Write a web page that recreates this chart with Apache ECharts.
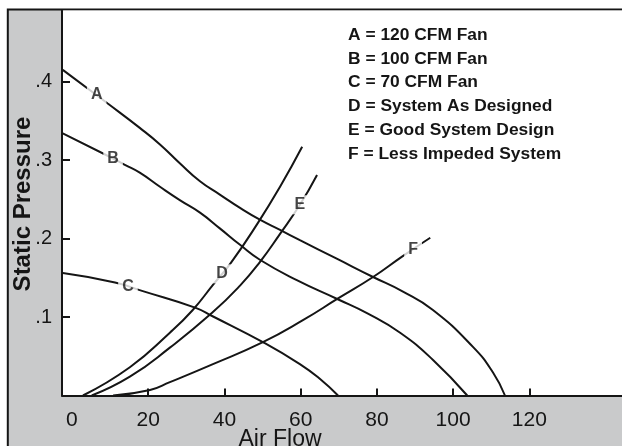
<!DOCTYPE html>
<html><head><meta charset="utf-8">
<script src="https://cdn.jsdelivr.net/npm/echarts@6/dist/echarts.min.js"></script>
<style>html,body{margin:0;padding:0;background:#fff}#c{width:622px;height:446px}</style>
</head><body><div id="c"></div>
<script>
const xTickLabels = [0, 20, 40, 60, 80, 100, 120];
const xTicks = [20, 40, 60, 80, 100, 120];
const yTickLabels = [0.1, 0.2, 0.3, 0.4];
const curveA = [[-2.4,0.415],[9.4,0.372],[17.8,0.341],[23.1,0.320],[28.3,0.296],[33.6,0.273],[38.8,0.256],[44.1,0.239],[49.3,0.224],[54.6,0.211],[59.8,0.198],[69.6,0.174],[79.0,0.151],[86.6,0.133],[94.7,0.109],[105.2,0.062],[110.5,0.029],[113.6,0]];
const curveB = [[-2.4,0.334],[10.8,0.302],[13.9,0.294],[17.8,0.284],[23.1,0.266],[28.3,0.249],[33.6,0.233],[38.8,0.213],[44.1,0.192],[49.3,0.173],[59.0,0.147],[69.6,0.123],[77.4,0.105],[86.1,0.080],[94.8,0.045],[103.7,0]];
const curveC = [[-2.4,0.156],[11.3,0.144],[18.6,0.133],[32.3,0.112],[36.9,0.101],[50.1,0.068],[59.8,0.040],[65.1,0.021],[69.8,0]];
const curveD = [[2.9,0],[15.2,0.036],[25.7,0.080],[31.7,0.109],[37.0,0.141],[41.7,0.169],[48.8,0.220],[54.6,0.266],[60.4,0.317]];
const curveE = [[5.2,0],[15.2,0.024],[25.7,0.061],[36.7,0.105],[44.1,0.140],[49.3,0.170],[54.6,0.206],[59.8,0.243],[64.3,0.281]];
const curveF = [[10.8,0],[20.5,0.007],[25.7,0.017],[37.0,0.040],[50.1,0.068],[60.6,0.096],[69.6,0.123],[79.0,0.151],[86.6,0.177],[94.0,0.201]];
const curveLabels = [[6.5,0.383,'A'],[10.8,0.302,'B'],[14.7,0.139,'C'],[39.4,0.155,'D'],[59.8,0.243,'E'],[89.5,0.186,'F']];
const legendLines = ['A = 120 CFM Fan','B = 100 CFM Fan','C = 70 CFM Fan','D = System As Designed','E = Good System Design','F = Less Impeded System'];
const xName = 'Air Flow';
const yName = 'Static Pressure';

const FONT = '"Liberation Sans", Arial, Helvetica, sans-serif';
const INK = '#151515';
const chart = echarts.init(document.getElementById('c'));
const curves = [curveA, curveB, curveC, curveD, curveE, curveF];
const series = curves.map(d => ({
  type: 'line', data: d, smooth: 0.5, symbol: 'none',
  lineStyle: { color: INK, width: 2 }, z: 3, silent: true
}));
series.push({
  type: 'scatter', data: curveLabels, symbolSize: 0, z: 10, silent: true,
  label: {
    show: true, position: 'inside', formatter: p => p.value[2],
    color: INK, fontFamily: FONT, fontWeight: 'bold', fontSize: 16,
    backgroundColor: '#fff', padding: [2, 4, 1, 4]
  }
});
const graphics = [
  { type: 'rect', z: -100, shape: { x: 7.8, y: 9.5, width: 700, height: 500 },
    style: { fill: '#c9cacb', stroke: INK, lineWidth: 2 } },
  { type: 'text', z: 50, style: { text: xName, x: 280, y: 428, fill: INK,
    font: '23px ' + FONT, textAlign: 'center', textVerticalAlign: 'top', align: 'center', verticalAlign: 'top' } },
  { type: 'text', z: 50, x: 23, y: 204, rotation: Math.PI / 2,
    style: { text: yName, x: 0, y: 0, fill: INK,
    font: 'bold 24px ' + FONT, textAlign: 'center', textVerticalAlign: 'middle', align: 'center', verticalAlign: 'middle' } }
];
legendLines.forEach((t, i) => graphics.push({
  type: 'text', z: 50, style: { text: t, x: 348, y: 35 + i * 23.8, fill: INK,
    font: 'bold 17.4px ' + FONT, textAlign: 'left', textVerticalAlign: 'middle', align: 'left', verticalAlign: 'middle' }
}));
chart.setOption({
  animation: false,
  backgroundColor: '#fff',
  graphic: { elements: graphics },
  grid: { left: 62, right: 0, top: 10.5, bottom: 50.5, show: true, backgroundColor: '#fff', borderWidth: 0,
    containLabel: false, outerBoundsMode: 'none' },
  xAxis: {
    type: 'value', min: -2.6, max: 144.3,
    axisLine: { show: true, onZero: false, lineStyle: { color: INK, width: 2 } },
    axisTick: { show: true, inside: true, length: 7, customValues: xTicks, lineStyle: { color: INK, width: 2 } },
    axisLabel: { customValues: xTickLabels, fontSize: 21, color: INK, fontFamily: FONT, margin: 14 },
    splitLine: { show: false }
  },
  yAxis: {
    type: 'value', min: 0, max: 0.4906,
    axisLine: { show: true, onZero: false, lineStyle: { color: INK, width: 2 } },
    axisTick: { show: true, inside: true, length: 8, customValues: yTickLabels, lineStyle: { color: INK, width: 2 } },
    axisLabel: { customValues: yTickLabels, fontSize: 20, color: INK, fontFamily: FONT, margin: 10,
      formatter: v => v.toFixed(1).replace(/^0/, '') },
    splitLine: { show: false }
  },
  series: series
});
</script></body></html>
